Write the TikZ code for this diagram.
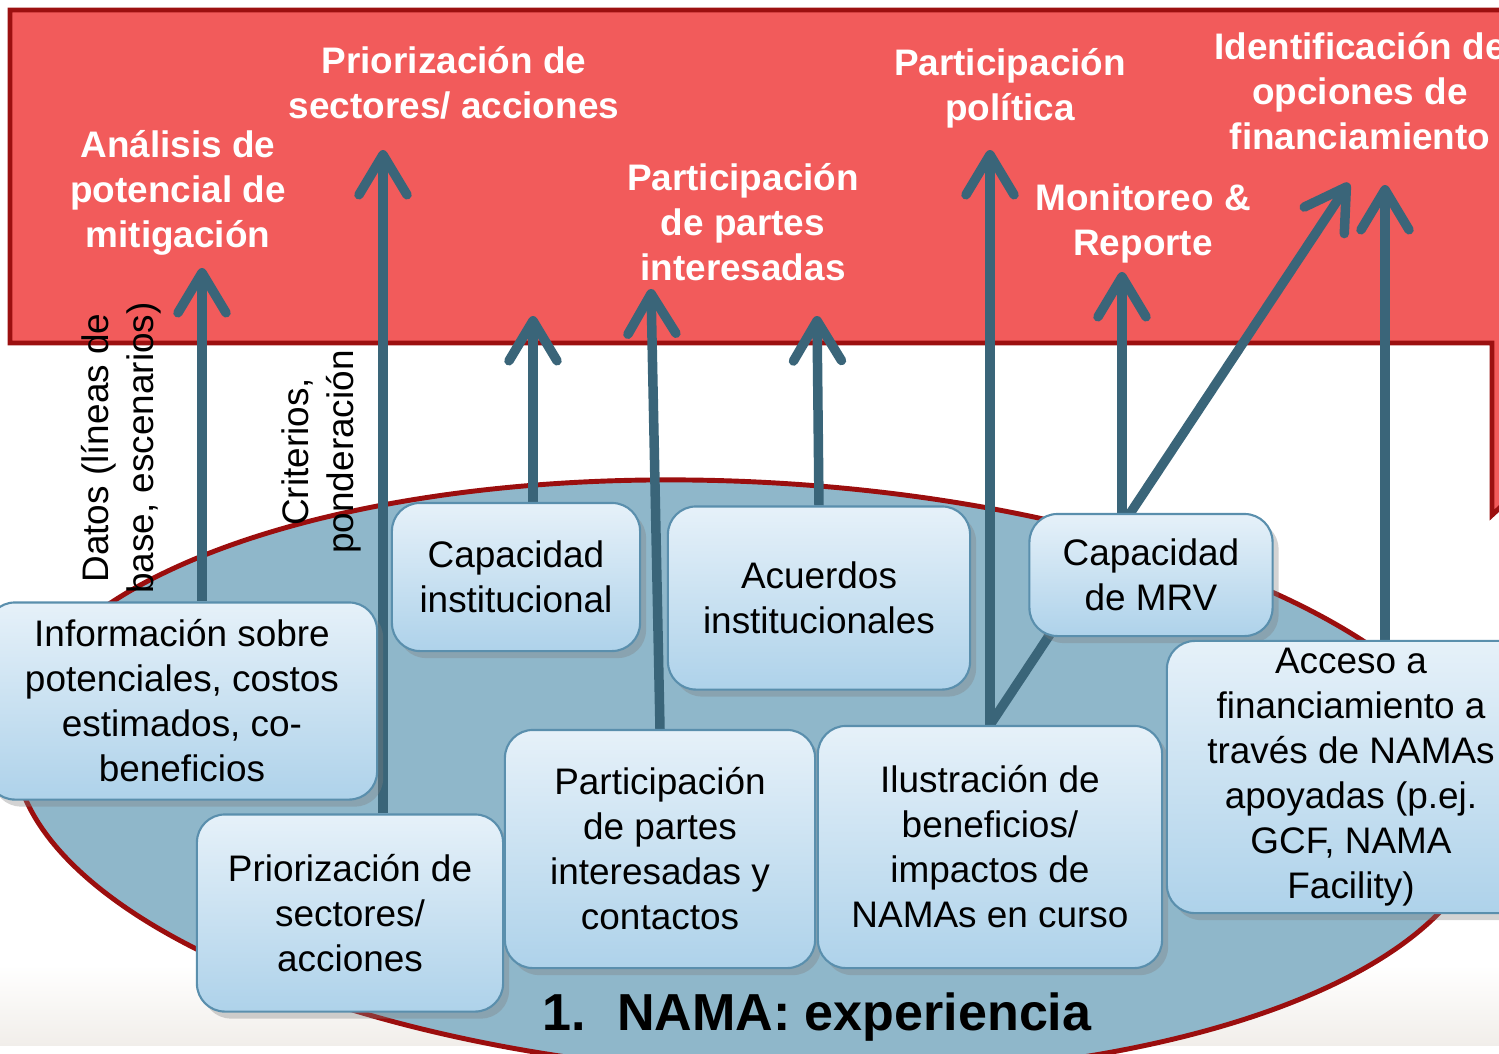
\documentclass[tikz,border=0pt]{standalone}
\usepackage{fontspec}
\setmainfont{Liberation Sans}
\usetikzlibrary{arrows.meta, shadows, backgrounds}

\definecolor{bannerred}{HTML}{F25B5B}
\definecolor{bannerline}{HTML}{9C1010}
\definecolor{ovalfill}{HTML}{8FB7CA}
\definecolor{ovalline}{HTML}{9B0E0E}
\definecolor{arrowblue}{HTML}{3A6579}
\definecolor{boxtop}{HTML}{E6F1F9}
\definecolor{boxbottom}{HTML}{AED2EA}
\definecolor{boxline}{HTML}{5A8FAD}
\definecolor{bandgray}{HTML}{F1EEEA}

\begin{document}
\begin{tikzpicture}[x=0.01cm, y=-0.01cm, >={Straight Barb[length=4mm, width=4.8mm, round]}]
				\tikzstyle{block} = [draw=boxline, line width=0.6pt, rounded corners=0.28cm, top color=boxtop, bottom color=boxbottom, align=center, inner sep=2pt, font=\fontsize{10.5}{12.8}\selectfont, drop shadow={shadow xshift=0.6mm, shadow yshift=-0.7mm, opacity=0.35}]
				\tikzstyle{goal} = [text=white, align=center, font=\fontsize{10.5}{12.8}\selectfont\bfseries]
				\tikzstyle{input} = [rotate=90, align=center, font=\fontsize{10.5}{12.8}\selectfont]
				\tikzstyle{flow} = [->, draw=arrowblue, line width=2.7pt]
				
				\useasboundingbox (0,0) rectangle (1499,1053);
				
				\node[block, minimum width=3.90cm, minimum height=1.97cm] 	at (182,701) 	(info) 	{Información sobre\\potenciales, costos\\estimados, co-\\beneficios};
				\node[block, minimum width=3.06cm, minimum height=1.97cm] 	at (350,913) 	(prio) 	{Priorización de\\sectores/\\acciones};
				\node[block, minimum width=2.48cm, minimum height=1.48cm] 	at (516,577) 	(capi) 	{Capacidad\\institucional};
				\node[block, minimum width=3.10cm, minimum height=2.38cm] 	at (660,849) 	(part) 	{Participación\\de partes\\interesadas y\\contactos};
				\node[block, minimum width=3.02cm, minimum height=1.83cm] 	at (819,598) 	(acu) 	{Acuerdos\\institucionales};
				\node[block, minimum width=3.44cm, minimum height=2.42cm] 	at (990,847) 	(ilus) 	{Ilustración de\\beneficios/\\impactos de\\NAMAs en curso};
				\node[block, minimum width=2.43cm, minimum height=1.22cm] 	at (1151,575) 	(mrv) 	{Capacidad\\de MRV};
				\node[block, minimum width=3.68cm, minimum height=2.69cm] 	at (1351,777) 	(acc) 	{Acceso a\\financiamiento a\\través de NAMAs\\apoyadas (p.ej.\\GCF, NAMA\\Facility)};
				
				\node[goal] 	at (178,193) 	(analisis) 	{Análisis de\\potencial de\\mitigación};
				\node[goal] 	at (454,83) 	(sectores) 	{Priorización de\\sectores/ acciones};
				\node[goal] 	at (743,222) 	(partes) 	{Participación\\de partes\\interesadas};
				\node[goal] 	at (1010,88) 	(politica) 	{Participación\\política};
				\node[goal] 	at (1143,223) 	(monitoreo) 	{Monitoreo \&\\Reporte};
				\node[goal] 	at (1360,91) 	(opciones) 	{Identificación de\\opciones de\\financiamiento};
				
				\node[input] 	at (121,448) 	(datos) 	{Datos (líneas de\\base, escenarios)};
				\node[input] 	at (321,452) 	(criterios) 	{Criterios,\\ponderación};
				
				\node[font=\fontsize{14.8}{17}\selectfont\bfseries, anchor=base] 	at (817,1030) 	(titulo) 	{1.\hspace{0.6em}NAMA: experiencia};
				
				\coordinate (tipA) at (202,268);
				\coordinate (tipB) at (383,150);
				\coordinate (tipC) at (533,316);
				\coordinate (tipD) at (651,289);
				\coordinate (tipE) at (817,316);
				\coordinate (tipF) at (990,150);
				\coordinate (tipG) at (1122,272);
				\coordinate (tipH) at (1349,183);
				\coordinate (tipI) at (1385,185);
				
				\begin{scope}[on background layer]
				\fill[top color=white, bottom color=bandgray] (0,965) rectangle (1499,1045);
				\draw[fill=bannerred, draw=bannerline, line width=1.4pt] (10,10) -- (1530,10) -- (1530,480) -- (1492,515) -- (1492,343) -- (10,343) -- cycle;
				\draw[fill=ovalfill, draw=ovalline, line width=1.4pt, shift={(750,778)}, rotate=-3] (0,0) ellipse [x radius=737, y radius=296];
				
				\path[flow]
				(tipA |- info.north)	edge	(tipA)
				(tipB |- prio.north)	edge	(tipB)
				(tipC |- capi.north)	edge	(tipC)
				(part.north)	edge	(tipD)
				(acu.north)	edge	(tipE)
				(ilus.north)	edge	(tipF)
				(tipG |- mrv.north)	edge	(tipG)
				(ilus.north)	edge	(tipH)
				(tipI |- acc.north)	edge	(tipI);
				\end{scope}
\end{tikzpicture}
\end{document}
